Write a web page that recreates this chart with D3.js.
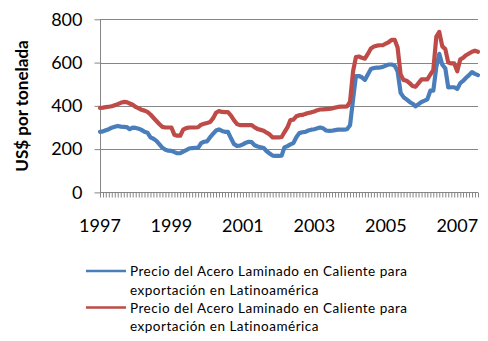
<!DOCTYPE html>
<html><head><meta charset="utf-8">
<script src="https://cdn.jsdelivr.net/npm/d3@7"></script>
<style>
html,body{margin:0;padding:0;background:#fff;}
svg{display:block;}
</style></head>
<body><svg id="c" width="488" height="341"></svg>
<script>
const startMonth = "1997-01";
const endMonth = "2007-08";
const yTicks = [0, 200, 400, 600, 800];
const yearLabels = ["1997", "1999", "2001", "2003", "2005", "2007"];
const seriesNames = [
  "Precio del Acero Laminado en Caliente para exportación en Latinoamérica",
  "Precio del Acero Laminado en Caliente para exportación en Latinoamérica"
];
const blueValues = [280,282,287,292,299,303,307,304,303,302,292,299,
298,294,289,280,276,254,248,238,222,206,197,193,
192,186,181,181,188,195,203,205,206,206,228,234,
236,255,270,286,291,284,280,280,250,224,215,216,
222,230,234,232,218,212,209,205,190,180,170,169,
169,170,208,214,222,228,255,274,278,280,286,290,
292,296,300,296,286,284,285,288,290,290,290,292,
310,430,537,538,532,520,545,570,575,577,577,580,
586,591,591,586,560,460,440,430,418,410,398,408,
418,424,430,470,470,580,640,590,573,485,486,486,
478,505,515,530,542,556,548,542];
const redValues = [391,392,394,396,398,403,408,414,418,417,411,405,
395,388,382,378,372,360,345,330,315,303,300,300,
300,266,262,262,290,297,300,300,300,301,313,317,
321,325,342,368,376,372,371,371,355,334,316,311,
311,311,311,311,300,293,289,285,276,268,254,254,
254,256,278,300,334,336,352,357,358,363,367,370,
374,380,383,384,385,386,388,392,395,396,396,397,
420,560,625,628,622,618,640,665,674,678,680,680,
688,695,705,705,670,545,520,516,505,492,488,505,
522,522,522,545,565,720,742,675,662,600,596,596,
560,615,622,634,642,650,655,650];
const colors = ["#4a7ebb", "#be4b48"];

const svg = d3.select("#c");
const parse = d3.timeParse("%Y-%m");
const t0 = parse(startMonth), t1 = parse(endMonth);
const dates = blueValues.map((_, i) => d3.timeMonth.offset(t0, i));

const x = d3.scaleTime().domain([t0, t1]).range([100, 478]);
const y = d3.scaleLinear().domain([0, 800]).range([192.4, 19.3]);

const font = "Lato, 'Open Sans', sans-serif";

// gridlines
svg.append("g").selectAll("line").data(yTicks.filter(d => d > 0)).join("line")
  .attr("x1", 100).attr("x2", 478)
  .attr("y1", d => Math.round(y(d)) + 0.5).attr("y2", d => Math.round(y(d)) + 0.5)
  .attr("stroke", "#868686").attr("stroke-width", 1);

// y axis
const yAxis = d3.axisLeft(y).tickValues(yTicks).tickSize(6).tickPadding(12);
const gy = svg.append("g").attr("transform", "translate(100.5,0)").call(yAxis);
gy.select(".domain").attr("stroke", "#868686").attr("d", "M0," + y(800) + "V" + (y(0)+0.5));
gy.selectAll(".tick line").attr("stroke", "#868686");
gy.selectAll(".tick text").attr("font-family", font).attr("font-size", 18).attr("fill", "#000");

// x axis
const xAxis = d3.axisBottom(x).ticks(d3.timeMonth.every(1)).tickSize(5).tickFormat("");
const gx = svg.append("g").attr("transform", "translate(0," + (Math.round(y(0)) + 0.5) + ")").call(xAxis);
gx.select(".domain").attr("stroke", "#868686").attr("d", "M100,0H478");
gx.selectAll(".tick line").attr("stroke", "#868686");

svg.append("g").selectAll("text").data(yearLabels).join("text")
  .attr("x", d => x(parse(d + "-01")))
  .attr("y", 232)
  .attr("text-anchor", "middle")
  .attr("font-family", font).attr("font-size", 18).attr("fill", "#000")
  .text(d => d);

// y title
svg.append("text")
  .attr("transform", "translate(28,106) rotate(-90)")
  .attr("text-anchor", "middle")
  .attr("font-family", font).attr("font-size", 17).attr("font-weight", "bold")
  .attr("fill", "#000")
  .text("US$ por tonelada");

// lines
const line = d3.line().x((d, i) => x(dates[i])).y(d => y(d)).curve(d3.curveLinear);
[blueValues, redValues].forEach((vals, k) => {
  svg.append("path").datum(vals)
    .attr("d", line)
    .attr("fill", "none")
    .attr("stroke", colors[k])
    .attr("stroke-width", 4.2)
    .attr("stroke-linejoin", "round")
    .attr("stroke-linecap", "round");
});

// legend
const legendY = [271, 307.5];
seriesNames.forEach((name, k) => {
  const g = svg.append("g");
  g.append("line").attr("x1", 86).attr("x2", 126)
    .attr("y1", legendY[k]).attr("y2", legendY[k])
    .attr("stroke", colors[k]).attr("stroke-width", 2.5);
  const words = name.split(" ");
  const l1 = words.slice(0, 7).join(" ");
  const l2 = words.slice(7).join(" ");
  [l1, l2].forEach((t, j) => {
    g.append("text").attr("x", 130).attr("y", legendY[k] + 5 + j * 18.5)
      .attr("font-family", font).attr("font-size", 13.5).attr("letter-spacing", 0.5)
      .attr("fill", "#000").text(t);
  });
});
</script>
</body></html>
